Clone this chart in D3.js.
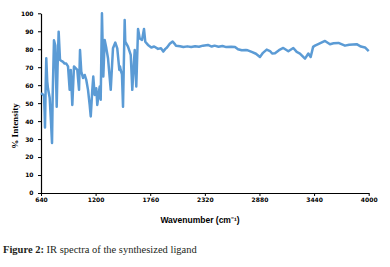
<!DOCTYPE html>
<html>
<head>
<meta charset="utf-8">
<script src="https://cdn.jsdelivr.net/npm/d3@7"></script>
<style>
  body { margin: 0; background: #fff; }
</style>
</head>
<body>
<svg id="chart"></svg>
<script>
// Values
const wavenumber = [640, 655, 671, 677, 681, 688, 694, 704, 712, 729, 742, 753, 760, 773, 787, 801, 810, 821, 835, 850,
  866, 882, 899, 917, 934, 945, 961, 978, 995, 1012, 1030, 1040, 1053, 1071, 1088, 1104, 1122, 1139, 1150, 1166,
  1176, 1190, 1207, 1217, 1232, 1242, 1252, 1265, 1279, 1293, 1310, 1327, 1355, 1378, 1402, 1422, 1443, 1450, 1457, 1470,
  1481, 1498, 1504, 1532, 1560, 1576, 1590, 1601, 1617, 1635, 1652, 1676, 1696, 1709, 1737, 1771, 1800, 1840, 1870, 1894,
  1915, 1932, 1960, 1990, 2010, 2024, 2065, 2100, 2140, 2180, 2220, 2260, 2300, 2352, 2390, 2420, 2460, 2500, 2540, 2590,
  2629, 2660, 2698, 2740, 2760, 2800, 2844, 2885, 2916, 2954, 2988, 3010, 3039, 3080, 3124, 3176, 3227, 3262, 3295, 3347,
  3381, 3405, 3430, 3449, 3493, 3552, 3603, 3640, 3690, 3757, 3800, 3877, 3920, 3962, 4000];
const intensity = [55.5, 55, 54, 45, 36.5, 60, 75, 62, 58, 53, 40, 27.8, 55, 85, 82, 48, 70, 89.8, 74, 73.5,
  73, 72, 72, 70.5, 57.4, 68.5, 49, 70.4, 69.5, 68.5, 57.4, 79.6, 67.6, 64, 65.7, 63, 57.4, 49, 42.6, 57.4,
  64.8, 54.6, 58.3, 49, 55.6, 59.3, 51.9, 100, 64.8, 85.2, 80.5, 75, 57.4, 80.5, 83.7, 80.5, 68.5, 70.4, 68.5, 66,
  48, 96.3, 84.2, 81.5, 76.9, 57.4, 70.4, 79.6, 59.3, 91.3, 86, 85.2, 91.3, 84.2, 82.4, 81, 81.5, 80.2, 80.5, 78.7,
  80.2, 81, 83, 84.3, 83, 82, 81.7, 81.3, 81.6, 81.2, 81.7, 81.4, 82, 82.4, 81.5, 82, 81.4, 81.8, 81.2, 81.4,
  81.3, 80, 79.4, 79.6, 79.4, 78.5, 77.5, 75.7, 78, 79.8, 79, 77.6, 77.8, 79.5, 80.7, 78.9, 80.7, 78.5, 77.6, 74.8,
  77.6, 75.7, 81.3, 82, 83.1, 84.6, 82.8, 83.3, 83.5, 82, 82.5, 82.8, 81.5, 81, 79];

const xTicks = [640, 1200, 1760, 2320, 2880, 3440, 4000];
const yTicks = [0, 10, 20, 30, 40, 50, 60, 70, 80, 90, 100];

const width = 390, height = 267;
const svg = d3.select("#chart")
    .attr("width", width)
    .attr("height", height);

svg.append("rect")
    .attr("width", width)
    .attr("height", height)
    .attr("fill", "#fff");

const xScale = d3.scaleLinear().domain([640, 4000]).range([41, 368.7]);
const yScale = d3.scaleLinear().domain([0, 100]).range([193, 13.3]);

const data = wavenumber.map((w, i) => ({ w: w, v: intensity[i] }));

// Axes
const xAxis = svg.append("g")
    .attr("transform", "translate(0,193)")
    .call(d3.axisBottom(xScale).tickValues(xTicks).tickSize(3).tickSizeOuter(0).tickFormat(d3.format("d")));
const yAxis = svg.append("g")
    .attr("transform", "translate(41,0)")
    .call(d3.axisLeft(yScale).tickValues(yTicks).tickSize(3).tickSizeOuter(0));

[xAxis, yAxis].forEach(ax => {
    ax.select(".domain").attr("stroke", "#000").attr("stroke-width", 1.2);
    ax.selectAll(".tick line").attr("stroke", "#000").attr("stroke-width", 1);
    ax.selectAll(".tick text")
        .attr("fill", "#000")
        .style("font-family", "DejaVu Sans")
        .style("font-weight", "bold")
        .style("font-size", "6px");
});
xAxis.selectAll(".tick text").attr("dy", "0.5em").attr("y", 6);
yAxis.selectAll(".tick text").attr("x", -7.5);

// Spectrum line
svg.append("path")
    .datum(data)
    .attr("fill", "none")
    .attr("stroke", "#5b9bd5")
    .attr("stroke-width", 2.5)
    .attr("stroke-linejoin", "round")
    .attr("d", d3.line().x(d => xScale(d.w)).y(d => yScale(d.v)));

// Axis titles
svg.append("text")
    .attr("x", 200)
    .attr("y", 223)
    .attr("text-anchor", "middle")
    .style("font-family", "Liberation Sans")
    .style("font-weight", "bold")
    .style("font-size", "8.5px")
    .attr("fill", "#000")
    .text("Wavenumber (cm⁻¹)");

svg.append("text")
    .attr("transform", "translate(18,126) rotate(-90)")
    .attr("text-anchor", "middle")
    .style("font-family", "Liberation Serif")
    .style("font-weight", "bold")
    .style("font-size", "9px")
    .attr("fill", "#000")
    .text("% Intensity");

// Caption
const caption = svg.append("text")
    .attr("x", 3)
    .attr("y", 252.5)
    .style("font-family", "Liberation Serif")
    .style("font-size", "10.5px")
    .attr("fill", "#231f20");
caption.append("tspan").style("font-weight", "bold").text("Figure 2:");
caption.append("tspan").text(" IR spectra of the synthesized ligand");
</script>
</body>
</html>
